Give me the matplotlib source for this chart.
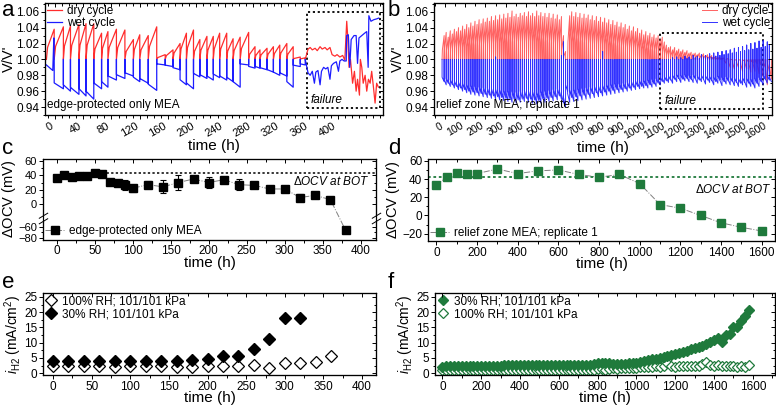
import numpy as np
import matplotlib.pyplot as plt
from matplotlib.ticker import MultipleLocator, FixedLocator
from matplotlib.lines import Line2D
from matplotlib.path import Path

plt.rcParams['font.family'] = ['Liberation Sans', 'DejaVu Sans']
plt.rcParams['mathtext.fontset'] = 'custom'
plt.rcParams['mathtext.rm'] = 'Liberation Sans'
plt.rcParams['mathtext.it'] = 'Liberation Sans:italic'
plt.rcParams['axes.linewidth'] = 0.8

RED = '#ff2d2d'
BLUE = '#1c1cff'
GREEN = '#1f7a3c'
TICK_FS = 8.5
XLABEL_FS = 11
YLABEL_FS = 10.5
NOTE_FS = 8.5

# ---------------- panel a: edge-protected only MEA, cycle by cycle
a_start = -12
a_cycle_t = [-1, 12, 22, 34, 44, 55, 66, 75, 87, 99, 111, 120, 132, 144, 156, 167, 177, 186,
             196, 205, 215, 224, 233, 243, 252, 262, 274, 283, 290, 300, 309, 318, 328, 337, 347, 354]
a_dry_peak = [1.038, 1.041, 1.042, 1.044, 1.045, 1.045, 1.033, 1.035, 1.038, 1.037, 1.025, 1.031,
              1.030, 1.041, 1.006, 1.012, 1.020, 1.033, 1.037, 1.025, 1.029, 1.029, 1.033, 1.033,
              1.026, 1.028, 1.034, 1.016, 1.012, 1.014, 1.016, 1.018, 1.020, 1.016, 1.003, 1.002]
a_wet_min = [0.963, 0.960, 0.956, 0.954, 0.950, 0.963, 0.965, 0.974, 0.976, 0.979, 0.972, 0.970,
             0.961, 0.993, 0.991, 0.987, 0.968, 0.963, 0.978, 0.976, 0.974, 0.977, 0.974, 0.972,
             0.965, 0.993, 0.989, 0.989, 0.987, 0.984, 0.980, 0.979, 0.965, 0.991, 0.993]
a_wet_head_t = [-12, -3, -1.5]
a_wet_head_v = [0.993, 0.986, 1.027]
a_fail_dry_t = [358, 361, 364, 368, 371, 375, 378, 382, 385, 389, 392, 396, 399, 403, 407, 410,
                412.7, 414, 416, 418, 421, 423.6, 426, 428, 430.7, 432, 434, 436, 438.7, 441,
                443.4, 445.8, 448, 450.5, 452.8, 455, 457.5]
a_fail_dry_v = [1.013, 1.015, 1.012, 1.014, 1.011, 1.016, 1.013, 1.015, 1.012, 1.015, 1.006, 1.004,
                1.006, 1.003, 1.005, 0.999, 1.048, 1.030, 0.990, 1.000, 0.970, 0.985, 0.960, 0.975,
                0.955, 1.000, 0.990, 0.970, 0.980, 0.960, 0.975, 0.970, 0.985, 0.965, 0.945, 0.970, 0.965]
a_fail_wet_t = [358, 361, 364, 367, 369, 372, 375, 377, 380, 383, 386, 389, 391, 394, 398, 401, 403,
                406, 409, 412, 412.5, 415, 417, 419, 423, 426, 428, 430, 434, 438, 441, 443, 444,
                447, 451, 455, 458]
a_fail_wet_v = [0.983, 0.980, 0.985, 0.970, 0.984, 0.986, 0.968, 0.985, 0.990, 0.988, 0.990, 0.975,
                0.992, 0.995, 0.997, 0.985, 0.998, 1.000, 0.998, 0.998, 1.030, 1.031, 0.990, 1.025,
                1.030, 1.030, 0.995, 1.027, 1.030, 1.033, 1.035, 0.990, 1.055, 1.048, 1.050, 1.051, 1.052]
a_tick_labels = [0, 40, 80, 120, 160, 200, 240, 280, 320, 360, 400]

# ---------------- panel b: relief zone MEA, replicate 1 (one value per ~10 h cycle)
b_first_t = -15
b_period = 10.2
b_dry_peak = [
    1.030, 1.034, 1.028, 1.036, 1.032, 1.038, 1.035, 1.040, 1.036, 1.042,
    1.038, 1.044, 1.040, 1.046, 1.042, 1.048, 1.044, 1.050, 1.045, 1.051,
    1.047, 1.052, 1.048, 1.054, 1.049, 1.055, 1.050, 1.056, 1.051, 1.057,
    1.052, 1.058, 1.053, 1.061, 1.054, 1.057, 1.053, 1.058, 1.055, 1.059,
    1.054, 1.060, 1.055, 1.058, 1.054, 1.061, 1.055, 1.059, 1.054, 1.058,
    1.053, 1.058, 1.052, 1.057, 1.051, 1.056, 1.050, 1.054, 1.030, 1.010,
    1.000, 1.055, 1.060, 1.054, 1.059, 1.053, 1.058, 1.052, 1.057, 1.052,
    1.056, 1.050, 1.055, 1.049, 1.054, 1.048, 1.053, 1.047, 1.052, 1.046,
    1.050, 1.044, 1.049, 1.043, 1.047, 1.041, 1.046, 1.040, 1.044, 1.038,
    1.042, 1.036, 1.041, 1.035, 1.039, 1.033, 1.037, 1.031, 1.035, 1.030,
    1.033, 1.028, 1.031, 1.027, 1.030, 1.025, 1.028, 1.022, 1.018, 1.015,
    1.016, 1.012, 1.015, 1.011, 1.013, 1.010, 1.012, 1.009, 1.011, 1.008,
    1.009, 1.007, 1.008, 1.006, 1.008, 1.005, 1.007, 1.005, 1.006, 1.004,
    1.005, 1.003, 1.004, 1.002, 1.003, 1.001, 1.002, 0.995, 1.001, 0.990,
    1.000, 0.988, 0.999, 0.990, 0.999, 0.985, 0.998, 0.988, 0.997, 0.984,
    0.996, 0.985, 0.995, 0.982, 0.993, 0.978, 0.990, 0.968, 0.985, 0.975]
b_wet_min = [
    0.972, 0.968, 0.970, 0.966, 0.968, 0.964, 0.966, 0.962, 0.964, 0.960,
    0.962, 0.958, 0.960, 0.956, 0.959, 0.955, 0.958, 0.954, 0.957, 0.953,
    0.956, 0.952, 0.955, 0.951, 0.954, 0.950, 0.953, 0.949, 0.952, 0.948,
    0.951, 0.947, 0.950, 0.946, 0.950, 0.945, 0.949, 0.946, 0.950, 0.947,
    0.951, 0.946, 0.950, 0.945, 0.949, 0.944, 0.948, 0.945, 0.950, 0.946,
    0.951, 0.947, 0.952, 0.948, 0.953, 0.949, 0.954, 0.950, 0.945, 0.940,
    0.960, 0.946, 0.952, 0.947, 0.953, 0.948, 0.954, 0.949, 0.955, 0.950,
    0.956, 0.951, 0.957, 0.952, 0.958, 0.953, 0.958, 0.954, 0.959, 0.955,
    0.960, 0.956, 0.961, 0.957, 0.962, 0.958, 0.962, 0.959, 0.963, 0.960,
    0.964, 0.961, 0.965, 0.962, 0.966, 0.963, 0.966, 0.964, 0.967, 0.964,
    0.968, 0.965, 0.969, 0.966, 0.970, 0.968, 0.972, 0.970, 0.973, 0.971,
    0.974, 0.970, 0.975, 0.972, 0.976, 0.971, 0.975, 0.973, 0.976, 0.972,
    0.975, 0.971, 0.976, 0.970, 0.974, 0.972, 0.975, 0.969, 0.974, 0.971,
    0.973, 0.968, 0.972, 0.970, 0.974, 0.967, 0.972, 0.969, 0.973, 0.968,
    0.972, 0.967, 0.971, 0.966, 0.970, 0.968, 0.971, 0.965, 0.970, 0.966,
    0.969, 0.964, 0.970, 0.966, 0.972, 0.968, 0.975, 0.970, 0.974, 0.972]
b_wet_top = [
    1.000, 1.000, 1.000, 1.000, 1.000, 1.000, 1.000, 1.000, 1.000, 1.000,
    1.000, 1.000, 1.000, 1.000, 1.000, 1.000, 1.000, 1.000, 1.000, 1.000,
    1.000, 1.000, 1.000, 1.000, 1.000, 1.000, 1.003, 1.000, 1.000, 1.000,
    1.000, 1.000, 1.000, 1.000, 1.000, 1.000, 1.000, 1.000, 1.000, 1.000,
    1.000, 1.000, 1.000, 1.000, 1.000, 1.000, 1.000, 1.000, 1.000, 1.000,
    1.000, 1.000, 1.000, 1.000, 1.000, 1.000, 1.000, 1.000, 1.005, 1.022,
    1.000, 1.000, 1.000, 1.000, 1.000, 1.000, 1.000, 1.000, 1.000, 1.000,
    1.000, 1.000, 1.000, 1.000, 1.000, 1.000, 1.000, 1.000, 1.010, 1.000,
    1.000, 1.000, 1.000, 1.000, 1.000, 1.000, 1.000, 1.000, 1.000, 1.000,
    1.000, 1.000, 1.000, 1.000, 1.000, 1.000, 1.000, 1.000, 1.000, 1.000,
    1.000, 1.000, 1.000, 1.000, 1.000, 1.000, 1.000, 1.000, 1.000, 1.000,
    1.000, 1.000, 1.002, 1.000, 1.003, 1.000, 1.002, 1.000, 1.004, 1.001,
    1.003, 1.000, 1.005, 1.002, 1.004, 1.001, 1.006, 1.003, 1.005, 1.002,
    1.007, 1.003, 1.008, 1.004, 1.009, 1.005, 1.010, 1.006, 1.011, 1.007,
    1.012, 1.008, 1.014, 1.009, 1.015, 1.010, 1.016, 1.011, 1.018, 1.012,
    1.020, 1.013, 1.021, 1.014, 1.023, 1.015, 1.024, 1.016, 1.022, 1.018]

# ---------------- panel c: delta OCV, edge-protected only
c_t = [0, 10, 20, 30, 40, 50, 60, 70, 80, 90, 100, 120, 140, 160, 180, 200, 220, 240, 260,
       280, 300, 320, 340, 360, 380]
c_ocv = [37, 40, 38, 39, 39, 43, 42, 31, 30, 27, 22, 27, 24, 30, 35, 30, 34, 27, 26, 21, 21,
         9, 12, 6, -66]
c_err = [4, 2, 2, 1, 1, 2, 2, 1, 1, 7, 5, 5, 9, 10, 1, 8, 2, 8, 4, 1, 1, 5, 2, 4, 2]
c_bot = 44

# ---------------- panel d: delta OCV, relief zone
d_t = [0, 50, 100, 150, 200, 300, 400, 500, 600, 700, 800, 900, 1000, 1100, 1200, 1300,
       1400, 1500, 1600]
d_ocv = [33, 42, 47, 45, 46, 51, 46, 49, 50, 45, 42, 45, 35, 12, 8, 0, -8, -13, -17]
d_bot = 42

# ---------------- panel e: H2 crossover, edge-protected only
e_t_100 = [0, 20, 40, 60, 80, 100, 120, 140, 160, 180, 200, 220, 240, 260, 280, 300, 320, 340, 360]
e_i_100 = [2.5, 2.5, 2.4, 2.3, 2.1, 2.2, 2.4, 2.2, 2.1, 2.1, 2.3, 2.3, 2.5, 2.7, 1.8, 3.5, 3.2, 3.8, 5.7]
e_t_30 = [0, 20, 40, 60, 80, 100, 120, 140, 160, 180, 200, 220, 240, 260, 280, 300, 320]
e_i_30 = [3.9, 4.0, 4.0, 3.9, 3.9, 3.9, 4.0, 4.0, 4.0, 4.2, 4.6, 5.5, 5.5, 7.8, 11.3, 18.0, 18.0]

# ---------------- panel f: H2 crossover, relief zone (every 20 h)
f_t = np.arange(0, 1600, 20)
f_i_30 = [2.1, 2.4, 2.5, 2.5, 2.5, 2.5, 2.5, 2.5, 2.5, 2.5,
          2.5, 2.5, 2.5, 2.5, 2.5, 2.5, 2.6, 2.6, 2.6, 2.6,
          2.6, 2.6, 2.6, 2.6, 2.6, 2.6, 2.6, 2.6, 2.6, 2.6,
          2.6, 2.7, 2.7, 2.7, 2.7, 2.7, 2.8, 2.8, 2.8, 2.9,
          3.4, 3.3, 3.2, 3.2, 3.1, 3.1, 3.0, 3.1, 3.2, 3.3,
          3.5, 3.8, 4.1, 4.3, 4.5, 4.8, 5.0, 5.3, 5.6, 5.9,
          6.3, 6.7, 7.0, 7.4, 7.8, 8.2, 8.6, 9.0, 9.6, 10.2,
          10.8, 11.6, 10.3, 12.5, 13.0, 15.0, 15.2, 17.0, 18.6, 20.6]
f_i_100 = [1.0, 0.9, 0.9, 1.0, 0.9, 0.9, 1.0, 0.9, 0.9, 1.0,
           0.9, 1.0, 0.9, 0.9, 1.0, 0.9, 1.0, 0.9, 0.9, 1.0,
           0.9, 1.0, 0.9, 1.0, 0.9, 0.9, 1.0, 0.9, 1.0, 0.9,
           1.0, 0.9, 1.0, 1.0, 0.9, 1.0, 1.1, 1.0, 1.1, 1.2,
           1.3, 1.4, 1.2, 1.5, 1.6, 1.4, 1.7, 1.6, 1.8, 1.7,
           1.8, 2.0, 1.9, 2.1, 1.9, 2.2, 2.0, 2.3, 3.5, 2.2,
           2.0, 2.3, 2.2, 2.4, 2.3, 2.5, 2.4, 3.0, 3.8, 2.6,
           2.4, 2.7, 2.5, 2.2, 2.3, 2.4, 2.1, 2.3, 2.0, 2.8]


def box(l, t, r, b):
    return [l / 776, 1 - b / 415, (r - l) / 776, (b - t) / 415]


def dry_path(starts, ends, peaks):
    xs, ys = [], []
    for t0, t1, p in zip(starts, ends, peaks):
        xs += [t0, t0 + 0.15 * (t1 - t0), t1, t1]
        ys += [1.0, 1 + 0.4 * (p - 1), p, 1.0]
    return xs, ys


def wet_path(starts, ends, lows, tops):
    xs, ys = [], []
    for t0, t1, m, top in zip(starts, ends, lows, tops):
        xs += [t0, t0, t1]
        ys += [top, m + 0.2 * (1 - m), m]
    return xs, ys


def style(ax, xmaj, xmin, ymaj, ymin, ylocs=None):
    ax.xaxis.set_major_locator(MultipleLocator(xmaj))
    ax.xaxis.set_minor_locator(MultipleLocator(xmin))
    if ylocs is None:
        ax.yaxis.set_major_locator(MultipleLocator(ymaj))
        ax.yaxis.set_minor_locator(MultipleLocator(ymin))
    ax.tick_params(which='both', direction='out', labelsize=TICK_FS, width=0.7, pad=1.2)
    ax.tick_params(which='major', length=3)
    ax.tick_params(which='minor', length=1.8)
    tx = ax.twiny()
    tx.set_xlim(ax.get_xlim())
    tx.xaxis.set_major_locator(MultipleLocator(xmaj))
    tx.xaxis.set_minor_locator(MultipleLocator(xmin))
    tx.tick_params(which='both', direction='in', labeltop=False, width=0.7)
    tx.tick_params(which='major', length=3)
    tx.tick_params(which='minor', length=1.8)
    ty = ax.twinx()
    if ylocs is None:
        ty.set_ylim(ax.get_ylim())
        ty.yaxis.set_major_locator(MultipleLocator(ymaj))
        ty.yaxis.set_minor_locator(MultipleLocator(ymin))
    else:
        ty.set_yscale('function', functions=ylocs[2])
        ty.set_ylim(ax.get_ylim())
        ty.yaxis.set_major_locator(FixedLocator(ylocs[0]))
        ty.yaxis.set_minor_locator(FixedLocator(ylocs[1]))
    ty.tick_params(which='both', direction='in', labelright=False, width=0.7)
    ty.tick_params(which='major', length=3)
    ty.tick_params(which='minor', length=1.8)


fig = plt.figure(figsize=(7.76, 4.15), dpi=100)

# ---- a
ax = fig.add_axes(box(45, 3, 383, 115))
xs, ys = dry_path([a_start] + a_cycle_t[:-1], a_cycle_t, a_dry_peak)
xs += a_fail_dry_t
ys += a_fail_dry_v
ax.plot(xs, ys, color=RED, lw=0.9, label='dry cycle')
xs, ys = wet_path(a_cycle_t[:-1], a_cycle_t[1:], a_wet_min, [1.0] * len(a_wet_min))
xs = a_wet_head_t + xs + [a_cycle_t[-1]] + a_fail_wet_t
ys = a_wet_head_v + ys + [1.0] + a_fail_wet_v
ax.plot(xs, ys, color=BLUE, lw=0.9, label='wet cycle')
ax.add_patch(plt.Rectangle((357, 0.939), 103, 0.121, fill=False, ls=(0, (1.2, 1.5)), lw=1.3, color='k'))
ax.text(361, 0.941, 'failure', style='italic', fontsize=NOTE_FS, va='bottom')
ax.text(-11, 0.935, 'edge-protected only MEA', fontsize=NOTE_FS, va='bottom')
ax.set_xlim(-14, 464)
ax.set_ylim(0.930, 1.071)
ax.yaxis.set_major_formatter(plt.FormatStrFormatter('%.2f'))
ax.set_ylabel("V/V'", fontsize=YLABEL_FS, labelpad=0)
ax.set_xlabel('time (h)', fontsize=XLABEL_FS, labelpad=0)
ax.legend(loc='upper left', fontsize=NOTE_FS, frameon=False, handlelength=1.3, handletextpad=0.4,
          labelspacing=0.05, borderaxespad=0.05, borderpad=0.1)
style(ax, 40, 10, 0.02, 0.01)
ax.xaxis.set_major_locator(FixedLocator(a_tick_labels))
ax.tick_params(axis='x', labelsize=8)
for lab in ax.get_xticklabels():
    lab.set_rotation(30)
    lab.set_ha('right')

# ---- b
ax = fig.add_axes(box(434, 3, 772, 115))
b_t0 = b_first_t + b_period * np.arange(len(b_dry_peak))
xs, ys = dry_path(b_t0, b_t0 + b_period, b_dry_peak)
ax.plot(xs, ys, color=RED, lw=0.7, alpha=0.75, label='dry cycle')
xs, ys = wet_path(b_t0, b_t0 + b_period, b_wet_min, b_wet_top)
ax.plot(xs, ys, color=BLUE, lw=0.7, alpha=0.9, label='wet cycle')
ax.add_patch(plt.Rectangle((1064, 0.937), 512, 0.096, fill=False, ls=(0, (1.2, 1.5)), lw=1.3, color='k'))
ax.text(1090, 0.940, 'failure', style='italic', fontsize=NOTE_FS, va='bottom')
ax.text(-45, 0.935, 'relief zone MEA; replicate 1', fontsize=NOTE_FS, va='bottom')
ax.set_xlim(-55, 1620)
ax.set_ylim(0.930, 1.071)
ax.yaxis.set_major_formatter(plt.FormatStrFormatter('%.2f'))
ax.set_ylabel("V/V'", fontsize=YLABEL_FS, labelpad=0)
ax.set_xlabel('time (h)', fontsize=XLABEL_FS, labelpad=0)
ax.legend(loc='upper right', fontsize=NOTE_FS, frameon=False, handlelength=1.3, handletextpad=0.4,
          labelspacing=0.05, borderaxespad=0.05, borderpad=0.1)
style(ax, 100, 50, 0.02, 0.01)
ax.tick_params(axis='x', labelsize=7.5)
for lab in ax.get_xticklabels():
    lab.set_rotation(30)
    lab.set_ha('right')

# ---- c (broken y axis)
brk_in = [-200, -80, -60, -20, 200]
brk_out = [-140.7, -47.75, -32.3, -20, 200]


def c_fwd(y):
    return np.interp(y, brk_in, brk_out)


def c_inv(y):
    return np.interp(y, brk_out, brk_in)


ax = fig.add_axes(box(43, 159, 376, 239.5))
ax.set_yscale('function', functions=(c_fwd, c_inv))
ax.plot(c_t, c_ocv, color='#808080', lw=0.7, ls='-.', zorder=1)
ax.errorbar(c_t, c_ocv, yerr=c_err, fmt='s', color='k', ms=5.5, elinewidth=0.8, capsize=2,
            capthick=0.8, zorder=3)
ax.plot([60, 420], [c_bot, c_bot], color='k', ls=(0, (1.5, 1.5)), lw=1.1, zorder=2)
ax.text(412, 31, r'$\Delta$OCV at BOT', style='italic', fontsize=NOTE_FS, ha='right', va='center')
ax.set_xlim(-18, 420)
ax.set_ylim(-82.7, 63)
ax.yaxis.set_major_locator(FixedLocator([-80, -60, 0, 20, 40, 60]))
ax.yaxis.set_minor_locator(FixedLocator([-70, 10, 30, 50]))
h = Line2D([], [], color='#808080', ls='-.', lw=0.7, marker='s', mfc='k', mec='k', ms=5.5)
ax.legend([h], ['edge-protected only MEA'], loc='lower left', fontsize=NOTE_FS, frameon=False,
          handlelength=1.6, handletextpad=0.4, borderaxespad=0.1, borderpad=0.1)
ax.set_ylabel(r'$\Delta$OCV (mV)', fontsize=YLABEL_FS, labelpad=0)
ax.set_xlabel('time (h)', fontsize=XLABEL_FS, labelpad=-1)
style(ax, 50, 25, None, None, ylocs=([-80, -60, 0, 20, 40, 60], [-70, 10, 30, 50], (c_fwd, c_inv)))
ax.tick_params(axis='y', labelsize=8)
brk = Path([(-1, -1.2), (1, 0.0), (-1, 0.0), (1, 1.2)],
           [Path.MOVETO, Path.LINETO, Path.MOVETO, Path.LINETO])
for xx in (0, 1):
    ax.plot([xx], [-20], marker='s', ms=4, mfc='white', mec='none',
            transform=ax.get_yaxis_transform(), clip_on=False, zorder=5)
    ax.plot([xx], [-20], marker=brk, ms=8, mec='k', mew=0.7, fillstyle='none',
            transform=ax.get_yaxis_transform(), clip_on=False, zorder=6)

# ---- d
ax = fig.add_axes(box(428, 159, 775, 241))
ax.plot(d_t, d_ocv, color='#808080', lw=0.7, ls='-.', zorder=1)
ax.plot(d_t, d_ocv, 's', color=GREEN, ms=6, zorder=3)
ax.axhline(d_bot, color=GREEN, ls=(0, (1.5, 1.5)), lw=1.3, zorder=2)
ax.text(1650, 29, r'$\Delta$OCV at BOT', style='italic', fontsize=NOTE_FS, ha='right', va='center')
ax.set_xlim(-41, 1665)
ax.set_ylim(-28, 62)
h = Line2D([], [], color='#808080', ls='-.', lw=0.7, marker='s', mfc=GREEN, mec=GREEN, ms=6)
ax.legend([h], ['relief zone MEA; replicate 1'], loc='lower left', fontsize=NOTE_FS, frameon=False,
          handlelength=1.6, handletextpad=0.4, borderaxespad=0.1, borderpad=0.1)
ax.set_ylabel(r'$\Delta$OCV (mV)', fontsize=YLABEL_FS, labelpad=0)
ax.set_xlabel('time (h)', fontsize=XLABEL_FS, labelpad=-1)
style(ax, 200, 100, 20, 10)

# ---- e
ax = fig.add_axes(box(43, 293, 376, 375))
ax.plot(e_t_100, e_i_100, 'D', mfc='white', mec='k', mew=0.9, ms=6, ls='none',
        label='100% RH; 101/101 kPa')
ax.plot(e_t_30, e_i_30, 'D', color='k', ms=6, ls='none', label='30% RH; 101/101 kPa')
ax.set_xlim(-13, 418)
ax.set_ylim(-0.6, 26.3)
ax.legend(loc='upper left', fontsize=NOTE_FS, frameon=False, handlelength=1.0, handletextpad=0.4,
          labelspacing=0.1, borderaxespad=0.1, borderpad=0.1)
ax.set_ylabel(r'$i_{\mathrm{H2}}$ (mA/cm$^2$)', fontsize=YLABEL_FS - 0.5, labelpad=0)
ax.set_xlabel('time (h)', fontsize=XLABEL_FS, labelpad=-1)
style(ax, 50, 25, 5, 2.5)

# ---- f
ax = fig.add_axes(box(435, 293, 775, 375))
ax.plot(f_t, f_i_30, 'D', color=GREEN, ms=5.5, ls='none', label='30% RH; 101/101 kPa', zorder=3)
ax.plot(f_t, f_i_100, 'D', mfc='white', mec=GREEN, mew=0.9, ms=5.5, ls='none',
        label='100% RH; 101/101 kPa', zorder=2)
ax.set_xlim(-38, 1714)
ax.set_ylim(-0.6, 26.3)
ax.legend(loc='upper left', fontsize=NOTE_FS, frameon=False, handlelength=1.0, handletextpad=0.4,
          labelspacing=0.1, borderaxespad=0.1, borderpad=0.1)
ax.set_ylabel(r'$i_{\mathrm{H2}}$ (mA/cm$^2$)', fontsize=YLABEL_FS - 0.5, labelpad=0)
ax.set_xlabel('time (h)', fontsize=XLABEL_FS, labelpad=-1)
style(ax, 200, 100, 5, 2.5)

for letter, x, y in [('a', 2, 16), ('b', 388, 16), ('c', 2, 154), ('d', 388, 154),
                     ('e', 2, 288), ('f', 388, 288)]:
    fig.text(x / 776, 1 - y / 415, letter, fontsize=16, va='baseline')

fig.savefig('out.png', dpi=100)
